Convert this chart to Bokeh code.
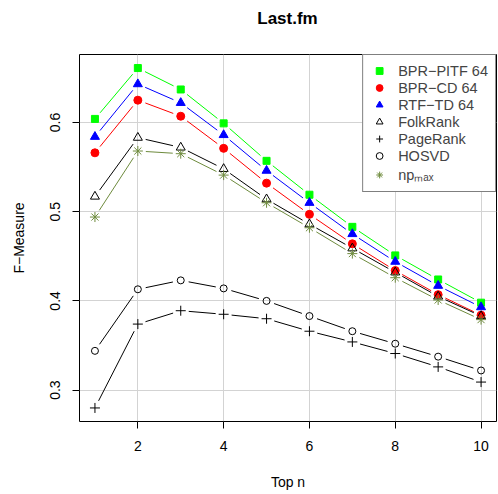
import math
from bokeh.plotting import figure
from bokeh.layouts import column
from bokeh.models import Range1d, FixedTicker, Legend, LegendItem, Div
from bokeh.embed import file_html
from bokeh.resources import INLINE

top_n = [1, 2, 3, 4, 5, 6, 7, 8, 9, 10]
bpr_pitf = [0.604, 0.661, 0.637, 0.599, 0.557, 0.519, 0.483, 0.451, 0.424, 0.398]
bpr_cd = [0.566, 0.625, 0.607, 0.571, 0.532, 0.497, 0.464, 0.434, 0.407, 0.384]
rtf_td = [0.584, 0.643, 0.622, 0.586, 0.546, 0.510, 0.475, 0.444, 0.417, 0.393]
folkrank = [0.517, 0.583, 0.572, 0.548, 0.514, 0.486, 0.459, 0.432, 0.405, 0.383]
pagerank = [0.280, 0.374, 0.389, 0.385, 0.380, 0.366, 0.354, 0.341, 0.326, 0.309]
hosvd = [0.344, 0.413, 0.423, 0.414, 0.400, 0.383, 0.366, 0.352, 0.3375, 0.322]
np_max = [0.494, 0.568, 0.565, 0.541, 0.510, 0.482, 0.453, 0.426, 0.401, 0.379]

x_ticks = [2, 4, 6, 8, 10]
y_ticks = [0.3, 0.4, 0.5, 0.6]
title_text = "Last.fm"

XR = (0.64, 10.36)
YR = (0.2648, 0.6762)
FW, FH = 417, 367
W, H_TOTAL = 498, 494
TH = 38                      # height of the title strip
H = H_TOTAL - TH
BL, BT = 79, 54 - TH

FONT = "Liberation Sans"

title = Div(text=title_text, width=FW, height=TH, margin=(0, 0, 0, BL),
            styles={"font-family": FONT, "font-size": "17px",
                    "font-weight": "bold", "text-align": "center",
                    "line-height": f"{TH}px", "color": "black",
                    "width": f"{FW}px"})

p = figure(width=W, height=H, output_backend="svg", toolbar_location=None,
           x_range=Range1d(*XR), y_range=Range1d(*YR),
           min_border_left=BL, min_border_top=BT,
           min_border_right=W - BL - FW, min_border_bottom=H - BT - FH,
           margin=(0, 0, 0, 0))

p.outline_line_color = "black"
p.outline_line_width = 1
p.background_fill_color = "white"

p.xgrid.ticker = FixedTicker(ticks=x_ticks)
p.ygrid.ticker = FixedTicker(ticks=y_ticks)
p.grid.grid_line_color = "#d3d3d3"
p.grid.grid_line_width = 1

p.xaxis.ticker = FixedTicker(ticks=x_ticks)
p.yaxis.ticker = FixedTicker(ticks=y_ticks)
p.xaxis.axis_label = "Top n"
p.yaxis.axis_label = "F\u2212Measure"
for ax in (p.xaxis, p.yaxis):
    ax.axis_line_color = None
    ax.major_tick_in = 0
    ax.major_tick_out = 7
    ax.minor_tick_line_color = None
    ax.major_tick_line_color = "black"
    ax.major_label_text_font = FONT
    ax.major_label_text_font_size = "14px"
    ax.major_label_text_color = "black"
    ax.axis_label_text_font = FONT
    ax.axis_label_text_font_size = "14px"
    ax.axis_label_text_font_style = "normal"
    ax.axis_label_text_color = "black"
    ax.major_label_standoff = 12
p.xaxis.axis_label_standoff = 20
p.yaxis.axis_label_standoff = 21
p.yaxis.major_label_orientation = "vertical"


def gapped(xs, ys, gap=8.0):
    x0, y0, x1, y1 = [], [], [], []
    sx = FW / (XR[1] - XR[0])
    sy = FH / (YR[1] - YR[0])
    for i in range(len(xs) - 1):
        dx = (xs[i + 1] - xs[i]) * sx
        dy = (ys[i + 1] - ys[i]) * sy
        d = math.hypot(dx, dy)
        if d <= 2 * gap:
            continue
        ux, uy = dx / d * gap, dy / d * gap
        x0.append(xs[i] + ux / sx)
        y0.append(ys[i] + uy / sy)
        x1.append(xs[i + 1] - ux / sx)
        y1.append(ys[i + 1] - uy / sy)
    return x0, y0, x1, y1


series = [
    ("BPR\u2212PITF 64", bpr_pitf, "#00FF00", "square", 7, True),
    ("BPR\u2212CD 64", bpr_cd, "#FF0000", "circle", 8, True),
    ("RTF\u2212TD 64", rtf_td, "#0000FF", "triangle", 9, True),
    ("FolkRank", folkrank, "black", "triangle", 9, False),
    ("PageRank", pagerank, "black", "cross", 10, False),
    ("HOSVD", hosvd, "black", "circle", 7, False),
    ("np\u2098\u2090\u2093", np_max, "#6E8B3D", "asterisk", 10, False),
]

items = []
for label, ys, col, marker, size, filled in series:
    x0, y0, x1, y1 = gapped(top_n, ys)
    p.segment(x0=x0, y0=y0, x1=x1, y1=y1, line_color=col, line_width=1)
for label, ys, col, marker, size, filled in series:
    r = p.scatter(top_n, ys, marker=marker, size=size, line_color=col,
                  fill_color=col if filled else None, line_width=1)
    items.append(LegendItem(label=label, renderers=[r]))

legend = Legend(items=items, location="top_right")
legend.margin = 0
legend.padding = 7
legend.spacing = 0
legend.glyph_width = 18
legend.glyph_height = 17
legend.label_height = 17
legend.label_standoff = 10
legend.label_text_font = FONT
legend.label_text_font_size = "14.5px"
legend.border_line_color = "black"
legend.border_line_width = 1
legend.background_fill_alpha = 1.0
p.add_layout(legend)

layout = column(title, p, spacing=0, margin=(0, 0, 0, 0))
open("out.html", "w").write(file_html(layout, INLINE))
